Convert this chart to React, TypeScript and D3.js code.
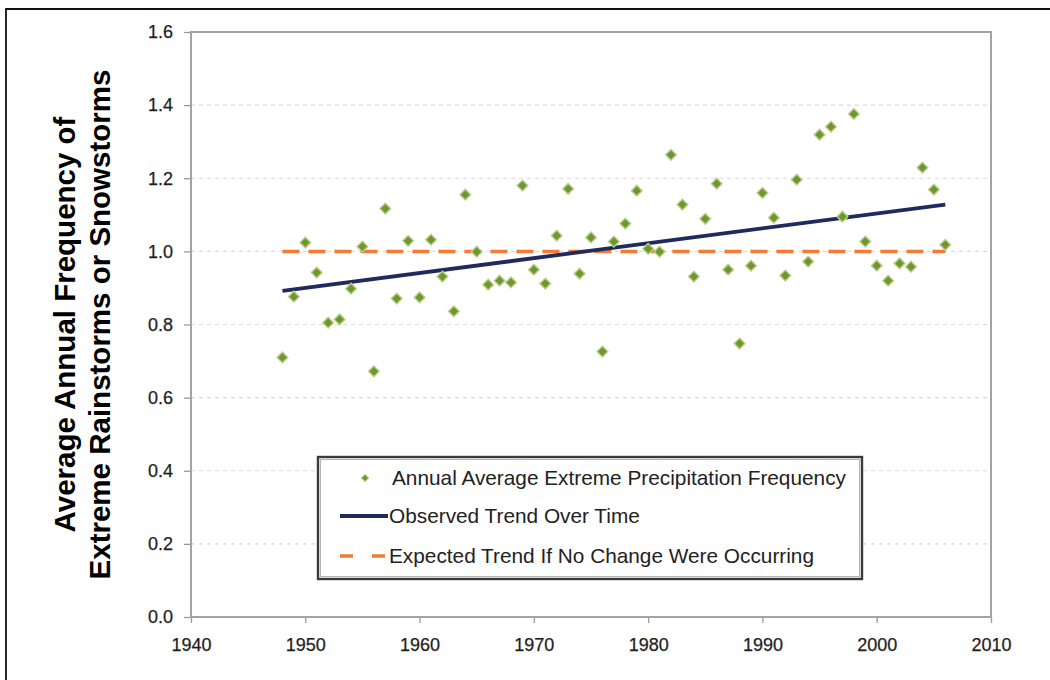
import React, { useRef, useEffect } from 'react';
import * as d3 from 'd3';

// annual extreme precipitation frequency
const years = [
  1948, 1949, 1950, 1951, 1952, 1953, 1954, 1955, 1956, 1957, 1958, 1959,
  1960, 1961, 1962, 1963, 1964, 1965, 1966, 1967, 1968, 1969, 1970, 1971,
  1972, 1973, 1974, 1975, 1976, 1977, 1978, 1979, 1980, 1981, 1982, 1983,
  1984, 1985, 1986, 1987, 1988, 1989, 1990, 1991, 1992, 1993, 1994, 1995,
  1996, 1997, 1998, 1999, 2000, 2001, 2002, 2003, 2004, 2005, 2006,
];
const frequency = [
  0.71, 0.876, 1.024, 0.942, 0.805, 0.814, 0.898, 1.013, 0.672, 1.117, 0.871, 1.029,
  0.874, 1.032, 0.931, 0.836, 1.155, 0.999, 0.909, 0.92, 0.915, 1.18, 0.95, 0.912,
  1.043, 1.171, 0.939, 1.038, 0.726, 1.027, 1.076, 1.166, 1.007, 0.999, 1.264, 1.128,
  0.931, 1.089, 1.185, 0.95, 0.748, 0.961, 1.16, 1.092, 0.934, 1.196, 0.972, 1.319,
  1.341, 1.095, 1.376, 1.027, 0.961, 0.92, 0.967, 0.958, 1.229, 1.169, 1.018,
];
const trendYears = [1948, 2006];
const observedTrend = [0.892, 1.128];
const expectedTrend = [1.0, 1.0];

const xTicks = [1940, 1950, 1960, 1970, 1980, 1990, 2000, 2010];
const yTicks = [0, 0.2, 0.4, 0.6, 0.8, 1.0, 1.2, 1.4, 1.6];

const legendLabels = [
  'Annual Average Extreme Precipitation Frequency',
  'Observed Trend Over Time',
  'Expected Trend If No Change Were Occurring',
];

const GREEN = '#6a9a2a';
const NAVY = '#1f2a5e';
const ORANGE = '#f47a38';
const FONT = '"Liberation Sans", Arial, sans-serif';

export default function App() {
  const svgRef = useRef<SVGSVGElement>(null);

  useEffect(() => {
    if (!svgRef.current) return;
    const svg = d3.select(svgRef.current);
    svg.selectAll('*').remove();

    const W = 1050, H = 680;
    const left = 191, right = 991, top = 32, bottom = 617;

    const x = d3.scaleLinear().domain([1940, 2010]).range([left, right]);
    const y = d3.scaleLinear().domain([0, 1.6]).range([bottom, top]);

    svg.append('rect').attr('width', W).attr('height', H).attr('fill', '#fff');

    // outer frame of the figure
    svg.append('path')
      .attr('d', `M6,${H} L6,9 L${W},9`)
      .attr('fill', 'none').attr('stroke', '#111').attr('stroke-width', 1.8);

    // gridlines
    svg.append('g').selectAll('line').data(yTicks.filter(t => t > 0 && t < 1.6)).join('line')
      .attr('x1', left).attr('x2', right)
      .attr('y1', d => y(d)).attr('y2', d => y(d))
      .attr('stroke', '#dadada').attr('stroke-width', 1.2).attr('stroke-dasharray', '4,4');

    // axes
    const yAxis = svg.append('g').attr('transform', `translate(${left},0)`)
      .call(d3.axisLeft(y).tickValues(yTicks).tickFormat(d3.format('.1f')).tickSize(7).tickPadding(11));
    const xAxis = svg.append('g').attr('transform', `translate(0,${bottom})`)
      .call(d3.axisBottom(x).tickValues(xTicks).tickFormat(d3.format('d')).tickSize(6).tickPadding(15));
    [yAxis, xAxis].forEach(a => {
      a.select('.domain').remove();
      a.selectAll('.tick line').attr('stroke', '#999').attr('stroke-width', 1.3);
      a.selectAll('text').attr('font-family', FONT).attr('font-size', 18)
        .attr('fill', '#1e1e1e').attr('stroke', '#1e1e1e').attr('stroke-width', 0.25);
    });

    // plot frame
    svg.append('rect')
      .attr('x', left).attr('y', top).attr('width', right - left).attr('height', bottom - top)
      .attr('fill', 'none').attr('stroke', '#a3a3a3').attr('stroke-width', 2);

    const line = d3.line<number>().x((_, i) => x(trendYears[i])).y(d => y(d));

    svg.append('path').datum(expectedTrend)
      .attr('d', line).attr('fill', 'none')
      .attr('stroke', ORANGE).attr('stroke-width', 3.5).attr('stroke-dasharray', '17,9');

    svg.append('path').datum(observedTrend)
      .attr('d', line).attr('fill', 'none')
      .attr('stroke', NAVY).attr('stroke-width', 3.8);

    const diamond = d3.symbol(d3.symbolSquare, 58)();
    svg.append('g').selectAll('path').data(frequency).join('path')
      .attr('d', diamond)
      .attr('transform', (d, i) => `translate(${x(years[i])},${y(d)}) rotate(45)`)
      .attr('fill', GREEN).attr('stroke', '#c2ca94').attr('stroke-width', 1.4);

    // y axis title
    const title = svg.append('text')
      .attr('transform', `translate(0,${(top + bottom) / 2}) rotate(-90)`)
      .attr('text-anchor', 'middle')
      .attr('font-family', FONT).attr('font-weight', 'bold').attr('font-size', 29.5).attr('fill', '#000');
    title.append('tspan').attr('x', 0).attr('y', 75).text('Average Annual Frequency of');
    title.append('tspan').attr('x', 0).attr('y', 110).text('Extreme Rainstorms or Snowstorms');

    // legend
    const lg = svg.append('g');
    const lx = 318, ly = 457, lw = 544, lh = 122;
    lg.append('rect').attr('x', lx).attr('y', ly).attr('width', lw).attr('height', lh)
      .attr('fill', '#fff').attr('stroke', '#3a3a3a').attr('stroke-width', 2.4);
    lg.append('rect').attr('x', lx + 2.5).attr('y', ly + 2.5).attr('width', lw - 5).attr('height', lh - 5)
      .attr('fill', 'none').attr('stroke', '#b5b5b5').attr('stroke-width', 1);

    const rows = [478, 516, 556];
    lg.append('path').attr('d', d3.symbol(d3.symbolSquare, 26)())
      .attr('transform', `translate(365,${rows[0]}) rotate(45)`)
      .attr('fill', GREEN).attr('stroke', '#c2ca94').attr('stroke-width', 1);
    lg.append('line').attr('x1', 340).attr('x2', 388).attr('y1', rows[1]).attr('y2', rows[1])
      .attr('stroke', NAVY).attr('stroke-width', 3.8);
    lg.append('line').attr('x1', 340).attr('x2', 388).attr('y1', rows[2]).attr('y2', rows[2])
      .attr('stroke', ORANGE).attr('stroke-width', 3.5).attr('stroke-dasharray', '13,19');

    lg.selectAll('text.lbl').data(legendLabels).join('text')
      .attr('class', 'lbl')
      .attr('x', (_, i) => (i === 0 ? 392 : 389))
      .attr('y', (_, i) => rows[i] + 7)
      .attr('font-family', FONT).attr('font-size', 20.8).attr('fill', '#222')
      .text(d => d);
  }, []);

  return (
    <div style={{ position: 'absolute', left: 0, top: 0 }}>
      <svg ref={svgRef} width={1050} height={680} style={{ display: 'block' }} />
    </div>
  );
}
